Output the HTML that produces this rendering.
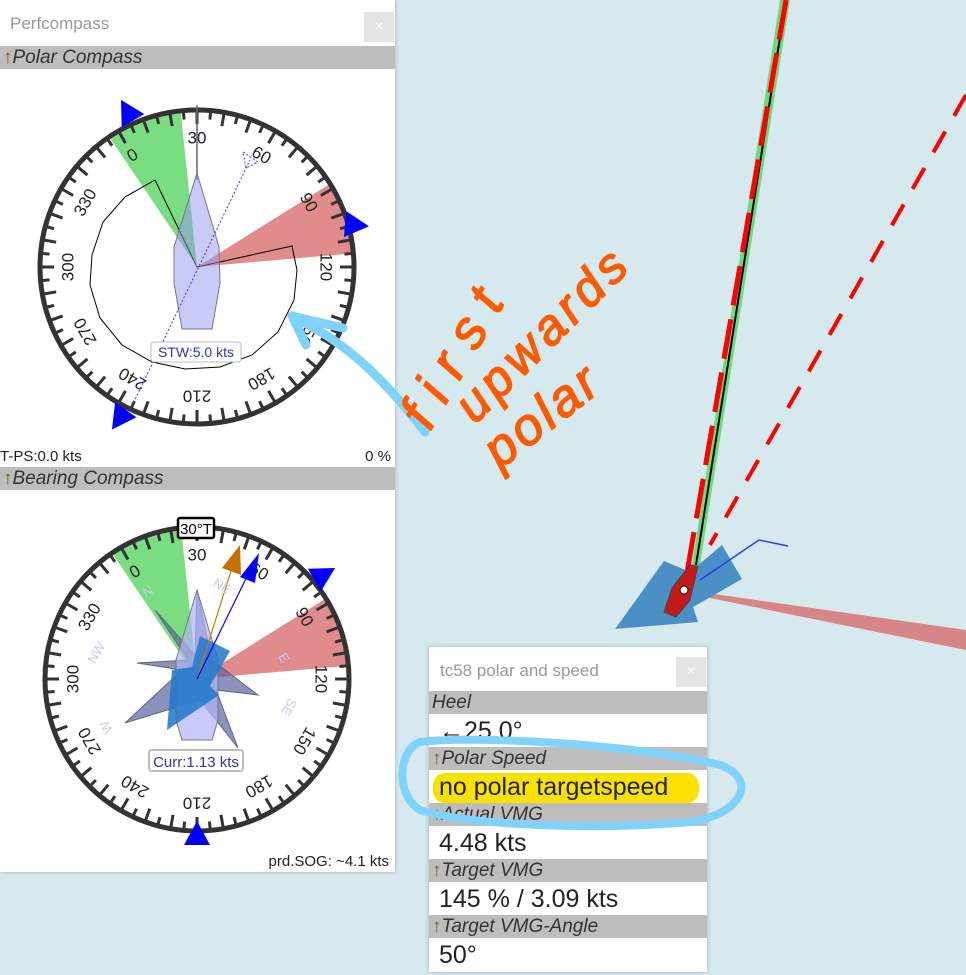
<!DOCTYPE html>
<html><head><meta charset="utf-8">
<style>
html,body{margin:0;padding:0;width:966px;height:975px;overflow:hidden;background:#d5e9ee;font-family:"Liberation Sans",sans-serif;}
.abs{position:absolute;}
.panel{position:absolute;background:#fff;box-shadow:0 0 4px rgba(0,0,0,.25);}
.ttl{position:absolute;color:#999;font-size:17px;}
.cls{position:absolute;width:30px;height:30px;background:#e4e4e4;color:#fff;font-size:16px;text-align:center;line-height:30px;}
.hdr{position:absolute;left:0;right:0;background:#bdbdbd;color:#333;font-style:italic;font-size:19px;height:23px;line-height:23px;padding-left:3px;}
.hdr .ar{color:#7a5c2e;font-style:normal;}
.val{position:absolute;left:10px;font-size:25px;color:#222;}
</style></head><body>
<svg class="abs" style="left:0;top:0" width="966" height="975">
  <polygon points="780,0 790,0 700,565 692,565" fill="#6fd97a"/>
  <line x1="786" y1="0" x2="696" y2="565" stroke="#000" stroke-width="2"/>
  <line x1="786" y1="0" x2="684" y2="590" stroke="#f00" stroke-width="5" stroke-dasharray="40,14"/>
  <line x1="966" y1="95" x2="710" y2="545" stroke="#f00" stroke-width="4" stroke-dasharray="24,18"/>
  <polygon points="700,592 966,630 966,650 700,596" fill="#d68686"/>
  <polygon points="615,629 664,561 690,572 722,545 742,579 693,607 698,622" fill="#4a90c6"/>
  <polyline points="700,580 759,540 788,546" fill="none" stroke="#2b3cf0" stroke-width="1.5"/>
  <polygon points="690,565 698,566 690,600 676,617 664,612 672,588" fill="#c41a1a" stroke="#444" stroke-width="1"/>
  <circle cx="684" cy="590" r="4" fill="#fff" stroke="#000"/>
</svg>

<div class="panel" style="left:0;top:0;width:395px;height:872px">
  <div class="ttl" style="left:10px;top:14px">Perfcompass</div>
  <div class="cls" style="left:364px;top:12px">×</div>
  <div class="hdr" style="top:46px"><span class="ar">↑</span>Polar Compass</div>
  <div class="abs" style="left:0;top:448px;font-size:15px;color:#222">T-PS:0.0 kts</div>
  <div class="abs" style="right:4px;top:448px;font-size:15px;color:#222">0 %</div>
  <div class="hdr" style="top:467px"><span class="ar">↑</span>Bearing Compass</div>
  <div class="abs" style="right:6px;top:853px;font-size:15px;color:#222">prd.SOG: ~4.1 kts</div>
  <svg id="cmp" class="abs" style="left:0;top:0" width="395" height="872"></svg>
</div>

<div class="panel" style="left:429px;top:647px;width:278px;height:325px">
  <div class="ttl" style="left:11px;top:14px">tc58 polar and speed</div>
  <div class="cls" style="left:247px;top:10px">×</div>
  <div class="hdr" style="top:44px">Heel</div>
  <div class="val" style="top:70px">←25.0°</div>
  <div class="hdr" style="top:100px"><span class="ar">↑</span>Polar Speed</div>
  <div class="abs" style="left:4px;top:126px;width:266px;height:30px;background:#f9e100;border-radius:12px"></div>
  <div class="val" style="top:126px">no polar targetspeed</div>
  <div class="hdr" style="top:156px"><span class="ar">↑</span>Actual VMG</div>
  <div class="val" style="top:182px">4.48 kts</div>
  <div class="hdr" style="top:212px"><span class="ar">↑</span>Target VMG</div>
  <div class="val" style="top:238px">145 % / 3.09 kts</div>
  <div class="hdr" style="top:268px"><span class="ar">↑</span>Target VMG-Angle</div>
  <div class="val" style="top:294px">50°</div>
</div>
<svg class="abs" style="left:0;top:0;pointer-events:none" width="966" height="975">
  <path d="M420,742 C480,735 640,745 720,765 C760,780 740,815 690,822 C600,830 470,826 420,810 C395,795 398,750 420,742 Z" fill="none" stroke="#7fd3fb" stroke-width="8"/>
  <g fill="none" stroke="#7fd3fb" stroke-width="9" stroke-linecap="round">
    <path d="M292,316 C330,335 370,360 425,432"/>
    <path d="M292,316 L343,328 M292,316 L306,345"/>
  </g>
  <g fill="#ff5a00" stroke="#ff5a00" stroke-width="1.5" stroke-linejoin="round" font-style="italic">
    <text x="430" y="432" transform="rotate(-60 430 432)" font-size="54" textLength="150" lengthAdjust="spacing">first</text>
    <text x="475" y="425" transform="rotate(-45 475 425)" font-size="50" textLength="220" lengthAdjust="spacing">upwards</text>
    <text x="500" y="470" transform="rotate(-38 500 470)" font-size="52" textLength="130" lengthAdjust="spacing">polar</text>
  </g>
</svg>

<script>
const labelDegs=[0,30,60,90,120,150,180,210,240,270,300,330];
const labelText=["0","30","60","90","120","150","180","210","240","270","300","330"];
const compasses=[{cx:197,cy:267,r:157,off:30},{cx:197,cy:679,r:152,off:30}];
const greenWedge=[-34,-6];
const redWedge=[58,85];
const svg=document.getElementById('cmp');
const NS='http://www.w3.org/2000/svg';
function mk(t,a,p){const e=document.createElementNS(NS,t);for(const k in a)e.setAttribute(k,a[k]);(p||svg).appendChild(e);return e;}
function pt(c,ang,r){const a=(ang-90)*Math.PI/180;return [c.cx+r*Math.cos(a),c.cy+r*Math.sin(a)];}
function wedge(c,a0,a1,fill,name){
  const p0=pt(c,a0,c.r),p1=pt(c,a1,c.r);
  const e=mk('path',{d:`M${c.cx},${c.cy}L${p0}A${c.r},${c.r} 0 0 1 ${p1}Z`,fill:fill});
  
  
}
function tri(x,y,rot,name){
  const e=mk('polygon',{points:'0,-14 13,10 -13,10',fill:'#0000ff',transform:`translate(${x},${y}) rotate(${rot})`});
  
  
}
compasses.forEach((c,i)=>{
  wedge(c,greenWedge[0],greenWedge[1],'rgba(60,205,70,0.68)','laylines-green-'+i);
  wedge(c,redWedge[0],redWedge[1],'rgba(205,70,70,0.62)','laylines-red-'+i);
  const ring=mk('circle',{cx:c.cx,cy:c.cy,r:c.r,fill:'none',stroke:'#333',"stroke-width":5});
  
  
  for(let d=0;d<360;d+=5){
    const a=d-c.off,len=d%10===0?14:9;
    const p0=pt(c,a,c.r),p1=pt(c,a,c.r-len);
    const t=mk('line',{x1:p0[0],y1:p0[1],x2:p1[0],y2:p1[1],stroke:'#333',"stroke-width":3});
    
    
  }
  labelDegs.forEach((d,j)=>{
    const a=d-c.off,p=pt(c,a,c.r-28);
    const t=mk('text',{x:p[0],y:p[1],"font-size":17,"text-anchor":"middle","dominant-baseline":"central",fill:'#222',transform:`rotate(${a} ${p[0]} ${p[1]})`});
    t.textContent=labelText[j];
    
    
  });
});
let e=mk('polyline',{points:'155,180 125,197 103,222 92,255 90,285 100,318 122,345 152,362 185,369 220,367 252,355 278,332 294,300 297,270 292,246 197,267 155,180',fill:'none',stroke:'#000',"stroke-width":1});

e=mk('line',{x1:197,y1:105,x2:197,y2:180,stroke:'#667',"stroke-width":1.5});
e=mk('polygon',{points:'197,173 219,247 220,283 212,329 182,329 174,283 174,247',fill:'rgba(150,150,240,0.5)',stroke:'#778'});

e=mk('line',{x1:130,y1:410,x2:250,y2:160,stroke:'#33f',"stroke-dasharray":'2,2'});

mk('polygon',{points:'243,152 258,162 246,168',fill:'none',stroke:'#33f',"stroke-dasharray":'2,2'});
tri(128,112,-30,'wind-marker-top');tri(355,225,95,'heading-marker-top');tri(120,418,215,'marker-bottom');
e=mk('rect',{x:151,y:342,width:90,height:20,rx:3,fill:'#fff',stroke:'#bbb'});
e=mk('text',{x:196,y:357,"font-size":14,"text-anchor":"middle",fill:'#33a'});e.textContent='STW:5.0 kts';

e=mk('polygon',{points:'197,590 212,660 258,695 216,690 238,748 200,700 125,723 182,670 137,663 188,660 155,610 195,655',fill:'rgba(90,100,160,0.7)',stroke:'#667'});

e=mk('polygon',{points:'197,590 218,660 218,720 212,740 182,740 176,720 176,660',fill:'rgba(180,180,245,0.7)',stroke:'#778'});

e=mk('polygon',{points:'167,730 172,670 192,667 200,636 230,651 210,686 219,695',fill:'rgba(30,120,200,0.85)'});

mk('line',{x1:197,y1:679,x2:237,y2:552,stroke:'#c70',"stroke-width":1.2});
mk('polygon',{points:'240,545 241,575 222,568',fill:'#c77000'});
mk('line',{x1:197,y1:679,x2:255,y2:560,stroke:'#00f',"stroke-width":1.2});
mk('polygon',{points:'259,553 255,583 240,577',fill:'#0000ff'});
tri(323,575,60,'marker-right');tri(197,835,0,'marker-bottom-2');
[['NE',220,590,30],['E',280,660,60],['SE',285,705,120],['NW',100,655,-60],['W',110,725,-120],['N',150,595,-30]].forEach(x=>{
  const t=mk('text',{x:x[1],y:x[2],"font-size":13,fill:'#c8c8f0',"text-anchor":"middle",transform:`rotate(${x[3]} ${x[1]} ${x[2]})`});t.textContent=x[0];
  
});
e=mk('rect',{x:149,y:750,width:94,height:21,rx:3,fill:'#fff',stroke:'#bbb',"stroke-width":2});
e=mk('text',{x:196,y:767,"font-size":15,"text-anchor":"middle",fill:'#33a'});e.textContent='Curr:1.13 kts';

e=mk('rect',{x:178,y:518,width:36,height:20,rx:2,fill:'#fff',stroke:'#000',"stroke-width":2.5});
e=mk('text',{x:196,y:534,"font-size":15,"text-anchor":"middle",fill:'#000'});e.textContent='30°T';

</script>
</body></html>
